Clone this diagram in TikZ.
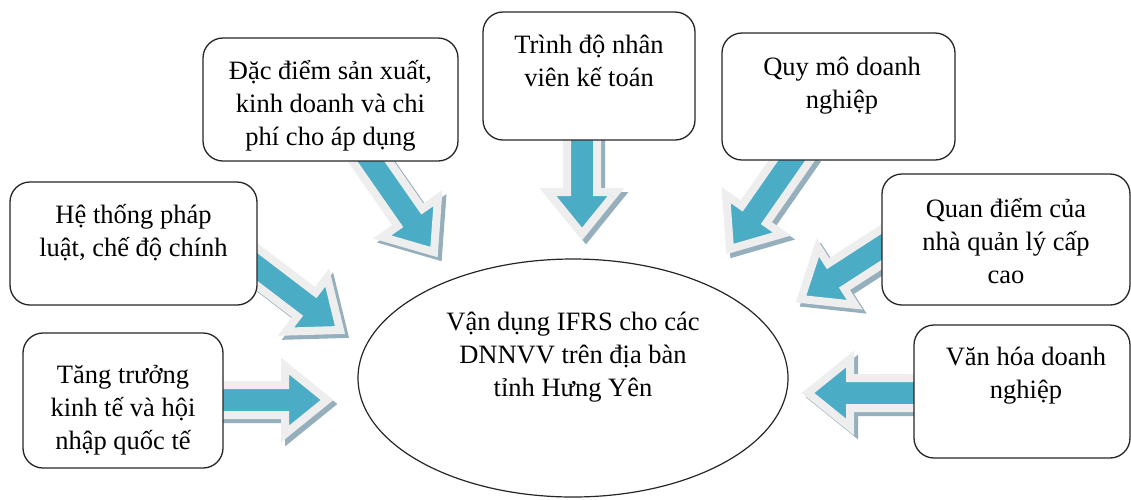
\documentclass[tikz,border=0pt]{standalone}
\usepackage{fontspec}
\setmainfont{Liberation Serif}
\usetikzlibrary{calc,backgrounds,shapes.geometric}
\definecolor{arrblue}{RGB}{75,172,198}
\definecolor{arredge}{RGB}{238,238,238}
\definecolor{arrshadow}{RGB}{150,175,188}
\def\arrsw{15pt}
\def\arrhw{34pt}
\def\arrhl{42pt}
\newcommand\arrpoly[3]{%
  \coordinate (bH) at ($(#3)!\arrhl!(#2)$);
  \draw[#1] ($(#2)!\arrsw!90:(#3)$) -- ($(bH)!\arrsw!90:(#3)$) -- ($(bH)!\arrhw!90:(#3)$) -- (#3) -- ($(bH)!\arrhw!-90:(#3)$) -- ($(bH)!\arrsw!-90:(#3)$) -- ($(#2)!\arrsw!-90:(#3)$) -- cycle;
}
\newcommand\blockarr[2]{%
  \coordinate (sA) at ($(#1)+(4,4)$);
  \coordinate (sB) at ($(#2)+(4,4)$);
  \arrpoly{arrshd}{sA}{sB}
  \arrpoly{arrmain}{#1}{#2}
}
\tikzset{
  box/.style={draw=black!85, line width=1.3pt, fill=white, rounded corners=20pt, inner sep=0pt},
  lbl/.style={font=\fontsize{26.5}{33}\selectfont, align=center, inner sep=0pt, anchor=base},
  arrshd/.style={fill=arrshadow, draw=arrshadow, line width=8pt, line join=miter},
  arrmain/.style={fill=arrblue, draw=arredge, line width=8pt, line join=miter},
}
\begin{document}
\begin{tikzpicture}[x=1pt,y=-1pt]
\useasboundingbox (0,0) rectangle (1131,499);
% boxes
\node[box, minimum width=255pt, minimum height=123pt] (b1) at (330.5,99.5) {};
\node[box, minimum width=212pt, minimum height=128pt] (b2) at (589,76) {};
\node[box, minimum width=233pt, minimum height=127pt] (b3) at (838.5,96.5) {};
\node[box, minimum width=247pt, minimum height=123pt] (b4) at (133.5,243.5) {};
\node[box, minimum width=248pt, minimum height=131pt] (b5) at (1006,239.5) {};
\node[box, minimum width=200pt, minimum height=135pt] (b6) at (123,400.5) {};
\node[box, minimum width=216pt, minimum height=133pt] (b7) at (1022,391.5) {};
\node[draw=black!85, line width=1.2pt, fill=white, ellipse, minimum width=430pt, minimum height=238pt, inner sep=0pt] (c) at (573,378) {};
% texts (base = last line's baseline)
\node[lbl] (l1) at (330.5,145) {Đặc điểm sản xuất,\\kinh doanh và chi\\phí cho áp dụng};
\node[lbl] (l2) at (589,86) {Trình độ nhân\\viên kế toán};
\node[lbl] (l3) at (842,108) {Quy mô doanh\\nghiệp};
\node[lbl] (l4) at (133.5,256) {Hệ thống pháp\\luật, chế độ chính};
\node[lbl] (l5) at (1006,283) {Quan điểm của\\nhà quản lý cấp\\cao};
\node[lbl] (l6) at (123,449) {Tăng trưởng\\kinh tế và hội\\nhập quốc tế};
\node[lbl] (l7) at (1026,398) {Văn hóa doanh\\nghiệp};
\node[lbl] (lc) at (573,396) {Vận dụng IFRS cho các\\DNNVV trên địa bàn\\tỉnh Hưng Yên};
% arrow end points
\coordinate (t1) at (363,150); \coordinate (p1) at (434,252);
\coordinate (t2) at (582,130); \coordinate (p2) at (582,234);
\coordinate (t3) at (799,150); \coordinate (p3) at (730,249);
\coordinate (t4) at (235,250); \coordinate (p4) at (340,330);
\coordinate (t5) at (900,235); \coordinate (p5) at (801,299);
\coordinate (t6) at (215,400); \coordinate (p6) at (327,400);
\coordinate (t7) at (925,393); \coordinate (p7) at (808,393);
\begin{pgfonlayer}{background}
\fill[white] (0,0) rectangle (1131,499);
\blockarr{t1}{p1}
\blockarr{t2}{p2}
\blockarr{t3}{p3}
\blockarr{t4}{p4}
\blockarr{t5}{p5}
\blockarr{t6}{p6}
\blockarr{t7}{p7}
\end{pgfonlayer}
\end{tikzpicture}
\end{document}
